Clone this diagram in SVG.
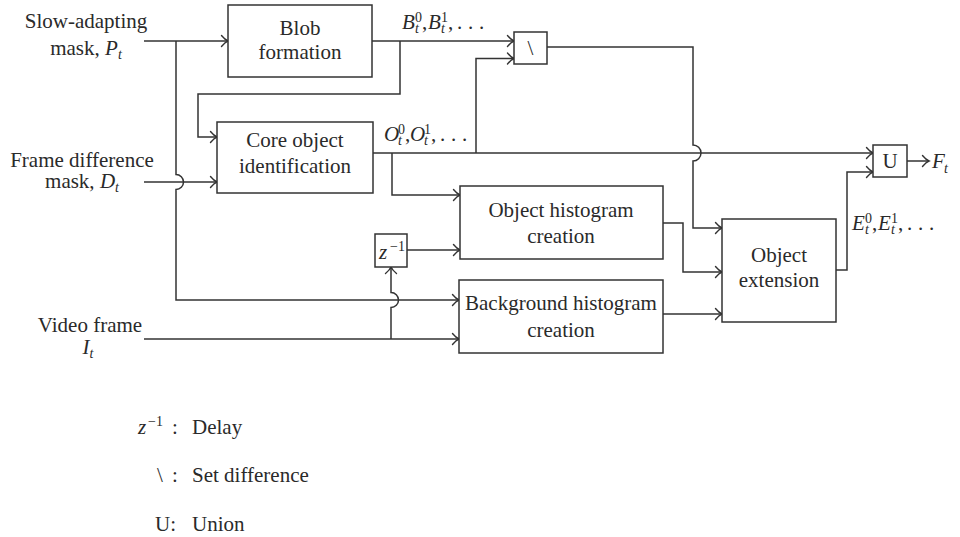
<svg xmlns="http://www.w3.org/2000/svg" width="960" height="537" viewBox="0 0 960 537" font-family="Liberation Serif" font-size="21">
  <defs>
    <!-- open arrowhead, tip at the origin, pointing along +x -->
    <path id="ah" d="M-6.5,-5.5 C-4,-2.5 -1.5,-0.6 0,0 C-1.5,0.6 -4,2.5 -6.5,5.5" fill="none" stroke="#333" stroke-width="1.4" stroke-linecap="round"/>
    <style>
      .box { fill: #fff; stroke: #333; stroke-width: 1.5; }
      .ln { fill: none; stroke: #333; stroke-width: 1.5; }
      .c { text-anchor: middle; }
      .i { font-style: italic; }
      .s { font-size: 14px; }
    </style>
  </defs>
  <rect width="960" height="537" fill="#fff"/>

  <!-- connectors -->
  <g id="connectors">
    <path class="ln" d="M144,41 H228"/>
    <path class="ln" d="M176,41 V174.5 A7.5,7.5 0 0 1 176,189.5 V300 H459"/>
    <path class="ln" d="M144,182 H217"/>
    <path class="ln" d="M144,339 H459"/>
    <path class="ln" d="M391,339 V307.5 A7.5,7.5 0 0 0 391,292.5 V267"/>
    <path class="ln" d="M372,41 H514"/>
    <path class="ln" d="M400,41 V94 H198 V137 H217"/>
    <path class="ln" d="M373,153 H873"/>
    <path class="ln" d="M476,153 V58.5 H514"/>
    <path class="ln" d="M392,153 V195 H460"/>
    <path class="ln" d="M547,47 H693 V145 A8,8 0 0 1 693,161 V228 H722"/>
    <path class="ln" d="M407,250 H460"/>
    <path class="ln" d="M663,223 H683 V272 H722"/>
    <path class="ln" d="M663,314 H722"/>
    <path class="ln" d="M836,270 H847 V172 H873"/>
    <path class="ln" d="M907,161 H929"/>

    <!-- arrowheads -->
    <use href="#ah" x="228" y="41"/>
    <use href="#ah" x="459" y="300"/>
    <use href="#ah" x="217" y="182"/>
    <use href="#ah" x="459" y="339"/>
    <use href="#ah" transform="translate(391,267) rotate(-90)"/>
    <use href="#ah" x="514" y="41"/>
    <use href="#ah" x="217" y="137"/>
    <use href="#ah" x="873" y="153"/>
    <use href="#ah" x="514" y="58.5"/>
    <use href="#ah" x="460" y="195"/>
    <use href="#ah" x="722" y="228"/>
    <use href="#ah" x="460" y="250"/>
    <use href="#ah" x="722" y="272"/>
    <use href="#ah" x="722" y="314"/>
    <use href="#ah" x="873" y="172"/>
    <use href="#ah" x="929" y="161"/>
  </g>

  <g fill="#2a2a2a">
  <g id="in-slow">
    <text font-family="Liberation Serif" class="c" x="86" y="28">Slow-adapting</text>
    <text font-family="Liberation Serif" class="c" x="86" y="55">mask, <tspan class="i">P</tspan><tspan class="i s" dy="4">t</tspan></text>
  </g>
  <g id="in-diff">
    <text font-family="Liberation Serif" class="c" x="82" y="167">Frame difference</text>
    <text font-family="Liberation Serif" class="c" x="82" y="188">mask, <tspan class="i">D</tspan><tspan class="i s" dy="4">t</tspan></text>
  </g>
  <g id="in-video">
    <text font-family="Liberation Serif" class="c" x="90" y="332">Video frame</text>
    <text font-family="Liberation Serif" class="c" x="88" y="354"><tspan class="i">I</tspan><tspan class="i s" dy="4">t</tspan></text>
  </g>

  <g id="blob">
    <rect class="box" x="228" y="5" width="144" height="72"/>
    <text font-family="Liberation Serif" class="c" x="300" y="35">Blob</text>
    <text font-family="Liberation Serif" class="c" x="300" y="59">formation</text>
  </g>
  <g id="core">
    <rect class="box" x="217" y="122" width="156" height="71"/>
    <text font-family="Liberation Serif" class="c" x="295" y="147">Core object</text>
    <text font-family="Liberation Serif" class="c" x="295" y="173">identification</text>
  </g>
  <g id="objhist">
    <rect class="box" x="460" y="186" width="203" height="73"/>
    <text font-family="Liberation Serif" class="c" x="561" y="217">Object histogram</text>
    <text font-family="Liberation Serif" class="c" x="561" y="243">creation</text>
  </g>
  <g id="bghist">
    <rect class="box" x="459" y="280" width="204" height="73"/>
    <text font-family="Liberation Serif" class="c" x="561" y="310">Background histogram</text>
    <text font-family="Liberation Serif" class="c" x="561" y="337">creation</text>
  </g>
  <g id="extension">
    <rect class="box" x="722" y="219" width="114" height="103"/>
    <text font-family="Liberation Serif" class="c" x="779" y="262">Object</text>
    <text font-family="Liberation Serif" class="c" x="779" y="287">extension</text>
  </g>
  <g id="setdiff">
    <rect class="box" x="514" y="32" width="33" height="32"/>
    <text font-family="Liberation Serif" class="c" x="530.5" y="55">\</text>
  </g>
  <g id="delay">
    <rect class="box" x="375" y="234" width="32" height="33"/>
    <text font-family="Liberation Serif" class="i" x="379" y="259">z</text>
    <text font-family="Liberation Serif" class="s" x="390" y="251">−1</text>
  </g>
  <g id="union">
    <rect class="box" x="873" y="145" width="34" height="32"/>
    <text font-family="Liberation Serif" class="c" x="890" y="168">U</text>
  </g>

  <g id="lbl-b">
    <text font-family="Liberation Serif" class="i" x="402" y="29">B</text>
    <text font-family="Liberation Serif" class="s" x="415" y="22">0</text>
    <text font-family="Liberation Serif" class="i s" x="415" y="33">t</text>
    <text font-family="Liberation Serif" x="422" y="29">,</text>
    <text font-family="Liberation Serif" class="i" x="428" y="29">B</text>
    <text font-family="Liberation Serif" class="s" x="441" y="22">1</text>
    <text font-family="Liberation Serif" class="i s" x="441" y="33">t</text>
    <text font-family="Liberation Serif" x="448" y="29">,</text>
    <text font-family="Liberation Serif" x="457" y="29">.</text>
    <text font-family="Liberation Serif" x="468" y="29">.</text>
    <text font-family="Liberation Serif" x="479" y="29">.</text>
  </g>
  <g id="lbl-o">
    <text font-family="Liberation Serif" class="i" x="384" y="141">O</text>
    <text font-family="Liberation Serif" class="s" x="398" y="134">0</text>
    <text font-family="Liberation Serif" class="i s" x="398" y="145">t</text>
    <text font-family="Liberation Serif" x="405" y="141">,</text>
    <text font-family="Liberation Serif" class="i" x="410" y="141">O</text>
    <text font-family="Liberation Serif" class="s" x="424" y="134">1</text>
    <text font-family="Liberation Serif" class="i s" x="424" y="145">t</text>
    <text font-family="Liberation Serif" x="431" y="141">,</text>
    <text font-family="Liberation Serif" x="440" y="141">.</text>
    <text font-family="Liberation Serif" x="451" y="141">.</text>
    <text font-family="Liberation Serif" x="462" y="141">.</text>
  </g>
  <g id="lbl-e">
    <text font-family="Liberation Serif" class="i" x="852" y="230">E</text>
    <text font-family="Liberation Serif" class="s" x="865" y="223">0</text>
    <text font-family="Liberation Serif" class="i s" x="865" y="234">t</text>
    <text font-family="Liberation Serif" x="872" y="230">,</text>
    <text font-family="Liberation Serif" class="i" x="878" y="230">E</text>
    <text font-family="Liberation Serif" class="s" x="891" y="223">1</text>
    <text font-family="Liberation Serif" class="i s" x="891" y="234">t</text>
    <text font-family="Liberation Serif" x="898" y="230">,</text>
    <text font-family="Liberation Serif" x="907" y="230">.</text>
    <text font-family="Liberation Serif" x="918" y="230">.</text>
    <text font-family="Liberation Serif" x="929" y="230">.</text>
  </g>
  <g id="lbl-f">
    <text font-family="Liberation Serif" class="i" x="932" y="168">F</text>
    <text font-family="Liberation Serif" class="i s" x="944" y="173">t</text>
  </g>

  <g id="legend">
    <text font-family="Liberation Serif" class="i" x="138" y="434">z</text>
    <text font-family="Liberation Serif" class="s" x="148" y="426">−1</text>
    <text font-family="Liberation Serif" x="172" y="434">:</text>
    <text font-family="Liberation Serif" x="192" y="434">Delay</text>
    <text font-family="Liberation Serif" x="157" y="482">\</text>
    <text font-family="Liberation Serif" x="172" y="482">:</text>
    <text font-family="Liberation Serif" x="192" y="482">Set difference</text>
    <text font-family="Liberation Serif" x="155" y="531">U:</text>
    <text font-family="Liberation Serif" x="192" y="531">Union</text>
  </g>
  </g>
</svg>
